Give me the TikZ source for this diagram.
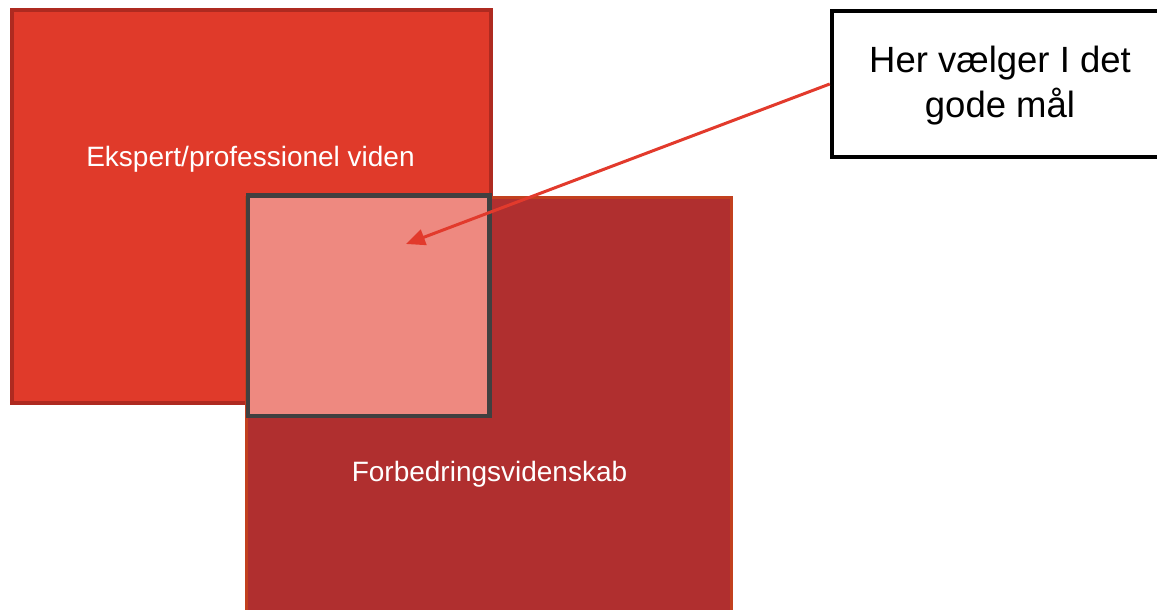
\documentclass[tikz,border=0pt]{standalone}
\usepackage{fontspec}
\setmainfont{Liberation Sans}
\usetikzlibrary{arrows.meta}
\definecolor{redA}{RGB}{224,58,42}
\definecolor{redAline}{RGB}{174,42,32}
\definecolor{redB}{RGB}{176,47,47}
\definecolor{redBline}{RGB}{194,64,31}
\definecolor{pinkO}{RGB}{238,137,128}
\definecolor{greyO}{RGB}{64,64,64}
\definecolor{arrowred}{RGB}{226,58,44}
\tikzset{
  boxtext/.style={text=white, inner sep=0pt, anchor=base, font=\fontsize{28}{32}\selectfont},
  callout/.style={draw=black, line width=4.5pt, fill=white, minimum width=336pt, minimum height=146pt,
    align=center, inner sep=0pt, font=\fontsize{36.5}{45}\selectfont},
  pointer/.style={draw=arrowred, line width=3pt, -{Triangle[length=19pt,width=16pt]}}
}
\begin{document}
\begin{tikzpicture}[x=1pt,y=-1pt]
\useasboundingbox (0,0) rectangle (1157,610);
\clip (0,0) rectangle (1157,610);
% expert box
\path[fill=redA, draw=redAline, line width=4pt] (11.5,10) rectangle (490.5,403);
\node[boxtext] (expert) at (250.5,166) {Ekspert/professionel viden};
% improvement science box
\path[fill=redB, draw=redBline, line width=3pt] (246,197) rectangle (731,640);
\node[boxtext] (forbedring) at (489.5,481) {Forbedringsvidenskab};
% overlap
\path[fill=pinkO, draw=greyO, line width=4.5pt] (248,195.5) rectangle (489.5,416);
% callout
\node[callout] (call) at (1000,84) {\rule{0pt}{30pt}Her vælger I det\\gode mål};
\coordinate (tip) at (406,244);
\draw[pointer] (call.west) -- (tip);
\end{tikzpicture}
\end{document}
